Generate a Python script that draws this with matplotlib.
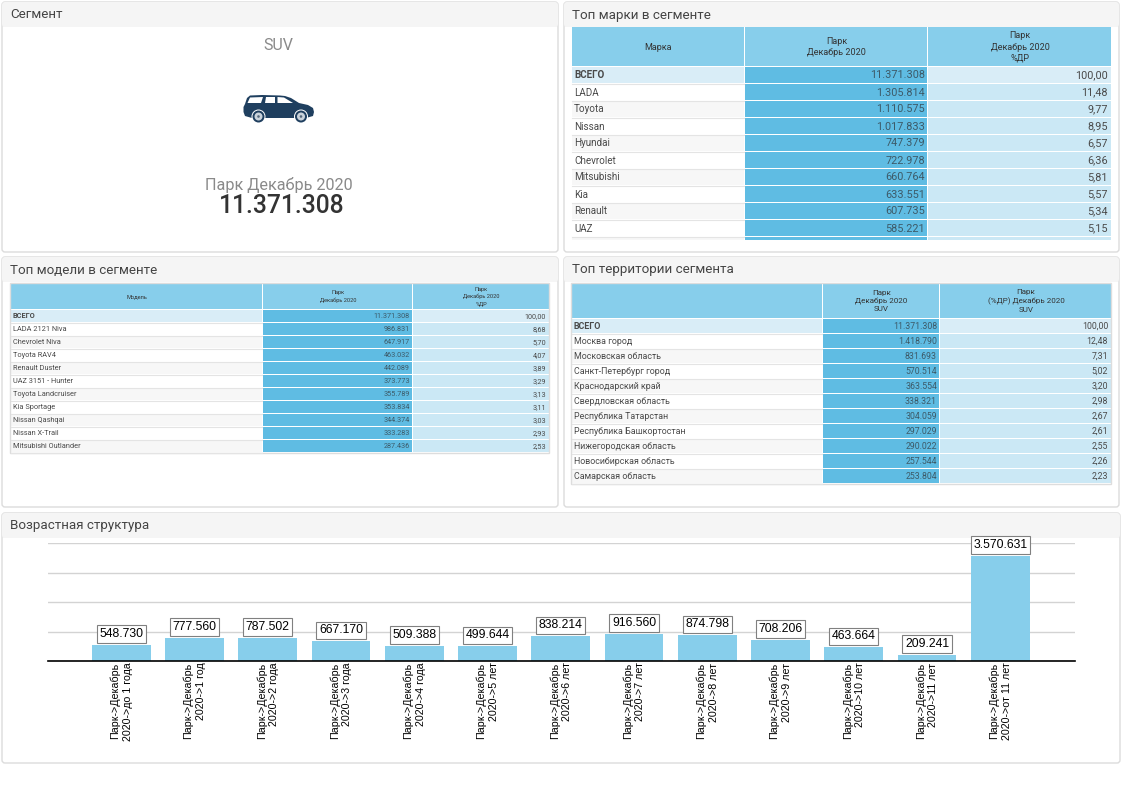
import matplotlib
matplotlib.use('Agg')
import matplotlib.pyplot as plt
from matplotlib.patches import Rectangle, FancyBboxPatch, Polygon, Circle

plt.rcParams['font.family'] = ['Roboto', 'DejaVu Sans']

W, H = 1122, 793

# data
brands = ['ВСЕГО', 'LADA', 'Toyota', 'Nissan', 'Hyundai', 'Chevrolet', 'Mitsubishi', 'Kia', 'Renault', 'UAZ']
brand_park = [11371308, 1305814, 1110575, 1017833, 747379, 722978, 660764, 633551, 607735, 585221]
brand_pct = [100.00, 11.48, 9.77, 8.95, 6.57, 6.36, 5.81, 5.57, 5.34, 5.15]

models = ['ВСЕГО', 'LADA 2121 Niva', 'Chevrolet Niva', 'Toyota RAV4', 'Renault Duster', 'UAZ 3151 - Hunter',
          'Toyota Landcruiser', 'Kia Sportage', 'Nissan Qashqai', 'Nissan X-Trail', 'Mitsubishi Outlander']
model_park = [11371308, 986831, 647917, 463032, 442089, 373773, 355789, 353834, 344374, 333283, 287436]
model_pct = [100.00, 8.68, 5.70, 4.07, 3.89, 3.29, 3.13, 3.11, 3.03, 2.93, 2.53]

regions = ['ВСЕГО', 'Москва город', 'Московская область', 'Санкт-Петербург город', 'Краснодарский край',
           'Свердловская область', 'Республика Татарстан', 'Республика Башкортостан', 'Нижегородская область',
           'Новосибирская область', 'Самарская область']
region_park = [11371308, 1418790, 831693, 570514, 363554, 338321, 304059, 297029, 290022, 257544, 253804]
region_pct = [100.00, 12.48, 7.31, 5.02, 3.20, 2.98, 2.67, 2.61, 2.55, 2.26, 2.23]

age_labels = ['Парк->Декабрь\n2020->до 1 года', 'Парк->Декабрь\n2020->1 год', 'Парк->Декабрь\n2020->2 года',
              'Парк->Декабрь\n2020->3 года', 'Парк->Декабрь\n2020->4 года', 'Парк->Декабрь\n2020->5 лет',
              'Парк->Декабрь\n2020->6 лет', 'Парк->Декабрь\n2020->7 лет', 'Парк->Декабрь\n2020->8 лет',
              'Парк->Декабрь\n2020->9 лет', 'Парк->Декабрь\n2020->10 лет', 'Парк->Декабрь\n2020->11 лет',
              'Парк->Декабрь\n2020->от 11 лет']
age_values = [548730, 777560, 787502, 667170, 509388, 499644, 838214, 916560, 874798, 708206, 463664, 209241, 3570631]

HEADER = '#87ceeb'
DARK = '#5fbce3'
LIGHT = '#cbe8f5'
TOTAL = '#d9edf7'
TEXT = '#4a4a4a'
LINE = '#e4e4e4'


def fmt_int(v):
    return f'{v:,}'.replace(',', '.')


def fmt_pct(v):
    return f'{v:.2f}'.replace('.', ',')


def panel(ax, x, y, w, h, title):
    ax.add_patch(FancyBboxPatch((x + 2, y + 2), w - 4, h - 4, boxstyle='round,pad=2,rounding_size=3',
                                fc='white', ec='#dcdcdc', lw=1))
    ax.add_patch(FancyBboxPatch((x + 2, y + 2), w - 4, 21, boxstyle='round,pad=2,rounding_size=3',
                                fc='#f5f5f5', ec='none'))
    ax.add_patch(Rectangle((x + 1, y + 15), w - 2, 10, fc='#f5f5f5', ec='none'))
    ax.text(x + 8, y + 13, title, fontsize=9.6, color='#444444', va='center', ha='left')


def table(ax, edges, top, head_h, row_h, headers, names, park, pct, fs, val_fs, head_fs, tail=0):
    x0, x1, x2, x3 = edges
    widths = [x1 - x0, x2 - x1, x3 - x2]
    lefts = [x0, x1, x2]
    for i in range(3):
        ax.add_patch(Rectangle((lefts[i], top), widths[i] - 1, head_h - 1, fc=HEADER, ec='none'))
        ax.text(lefts[i] + widths[i] / 2, top + head_h / 2, headers[i], fontsize=head_fs, color='#333333',
                ha='center', va='center', linespacing=1.35)
    y = top + head_h
    for r, name in enumerate(names):
        if r == 0:
            bg = TOTAL
        else:
            bg = 'white' if r % 2 == 1 else '#f7f7f7'
        ax.add_patch(Rectangle((x0, y), widths[0] - 1, row_h - 1, fc=bg, ec='none'))
        ax.plot([x0, x1 - 1], [y + row_h - 0.5, y + row_h - 0.5], color=LINE, lw=0.8)
        ax.add_patch(Rectangle((x1, y), widths[1] - 1, row_h - 1, fc=DARK, ec='none'))
        ax.add_patch(Rectangle((x2, y), widths[2] - 1, row_h - 1, fc=TOTAL if r == 0 else LIGHT, ec='none'))
        ym = y + row_h / 2
        ax.text(x0 + 2, ym, name, fontsize=fs, color=TEXT, ha='left', va='center',
                fontweight='bold' if r == 0 else 'normal')
        ax.text(x2 - 3, ym, fmt_int(park[r]), fontsize=val_fs, color='#3d5a68', ha='right', va='center')
        ax.text(x3 - 4, ym, fmt_pct(pct[r]), fontsize=val_fs, color=TEXT, ha='right', va='center')
        y += row_h
    if tail:
        # next row is cut off by the panel
        ax.add_patch(Rectangle((x0, y), widths[0] - 1, tail, fc='#f7f7f7', ec='none'))
        ax.add_patch(Rectangle((x1, y), widths[1] - 1, tail, fc=DARK, ec='none'))
        ax.add_patch(Rectangle((x2, y), widths[2] - 1, tail, fc=LIGHT, ec='none'))
    else:
        ax.add_patch(Rectangle((x0 - 0.5, top - 0.5), x3 - x0, y - top, fc='none', ec='#dddddd', lw=1))


def car(ax):
    body = [(243.5, 112), (243.5, 107), (245, 104), (247, 98), (250, 95.5), (262, 95), (280, 95.5), (285, 96),
            (291, 98), (299, 103), (308, 105), (313, 108), (314, 112), (313, 116), (306, 118), (252, 118), (245, 116)]
    ax.add_patch(Polygon(body, closed=True, fc='#1f3f5f', ec='none'))
    windows = [[(247.5, 103), (250, 97.5), (263, 97), (261, 103)],
               [(265, 103), (266, 97), (275, 97), (275, 103)],
               [(277.5, 103), (277.5, 97), (284, 97.5), (293, 103)]]
    for w in windows:
        ax.add_patch(Polygon(w, closed=True, fc='white', ec='none'))
    for cx in (258.5, 301):
        ax.add_patch(Circle((cx, 116.5), 7, fc='white', ec='none'))
        ax.add_patch(Circle((cx, 116.5), 6, fc='#1f3f5f', ec='none'))
        ax.add_patch(Circle((cx, 116.5), 4, fc='#c9d2da', ec='none'))
        ax.add_patch(Circle((cx, 116.5), 1.3, fc='#55687c', ec='none'))


fig = plt.figure(figsize=(W / 100, H / 100), dpi=100, facecolor='white')

# overlay in pixel units for the dashboard frame and tables
bg = fig.add_axes([0, 0, 1, 1])
bg.set_xlim(0, W)
bg.set_ylim(H, 0)
bg.axis('off')

panel(bg, 2, 2, 556, 250, 'Сегмент')
panel(bg, 564, 2, 555, 250, 'Топ марки в сегменте')
panel(bg, 2, 257, 556, 250, 'Топ модели в сегменте')
panel(bg, 564, 257, 555, 250, 'Топ территории сегмента')
panel(bg, 2, 513, 1118, 250, 'Возрастная структура')

bg.text(278, 45, 'SUV', fontsize=11.5, color='#8a8a8a', ha='center', va='center')
bg.text(278.5, 185, 'Парк Декабрь 2020', fontsize=11.7, color='#8a8a8a', ha='center', va='center')
bg.text(282, 206, fmt_int(brand_park[0]), fontsize=17.7, color='#333333', ha='center', va='center', fontweight='medium')
car(bg)

table(bg, (572, 745, 928, 1112), 27, 40, 17, ['Марка', 'Парк\nДекабрь 2020', 'Парк\nДекабрь 2020\n%ДР'],
      brands, brand_park, brand_pct, 7.1, 7.8, 6.5, tail=3)
table(bg, (11, 263, 413, 550), 283, 27, 13, ['Модель', 'Парк\nДекабрь 2020', 'Парк\nДекабрь 2020\n%ДР'],
      models, model_park, model_pct, 5.3, 5.2, 4.1)
table(bg, (572, 823, 940, 1112), 283, 36, 15, ['', 'Парк\nДекабрь 2020\nSUV', 'Парк\n(%ДР) Декабрь 2020\nSUV'],
      regions, region_park, region_pct, 6.4, 6.3, 5.8)

# age chart
ax = fig.add_axes([48 / W, 1 - 661 / H, 1027 / W, 117.6 / H])
ax.patch.set_alpha(0)
x = list(range(len(age_values)))
bars = ax.bar(x, age_values, width=0.8, color=HEADER, zorder=2)
ax.set_xlim(-1, 13.02)
ax.set_ylim(0, 4000000)
ax.set_yticks([0, 1000000, 2000000, 3000000, 4000000])
ax.tick_params(axis='y', length=0, labelleft=False)
ax.grid(axis='y', color='#d3d3d3', lw=1, zorder=0)
ax.set_axisbelow(True)
for s in ['top', 'left', 'right']:
    ax.spines[s].set_visible(False)
ax.spines['bottom'].set_color('black')
ax.spines['bottom'].set_linewidth(1.2)
ax.set_xticks(x)
ax.set_xticklabels(age_labels, rotation=90, fontsize=7.7, family=['Liberation Sans'], va='top', ha='center',
                   multialignment='right', linespacing=1.3)
ax.tick_params(axis='x', length=0, pad=1)

for rect, v in zip(bars, age_values):
    ax.annotate(fmt_int(v), (rect.get_x() + rect.get_width() / 2, v), xytext=(0, 5), textcoords='offset pixels',
                ha='center', va='bottom', fontsize=8.8, family=['Liberation Sans'], color='black', zorder=5,
                annotation_clip=False,
                bbox=dict(boxstyle='square,pad=0.22', fc='white', ec='#808080', lw=0.8))

fig.savefig('out.png', dpi=100, facecolor='white')
